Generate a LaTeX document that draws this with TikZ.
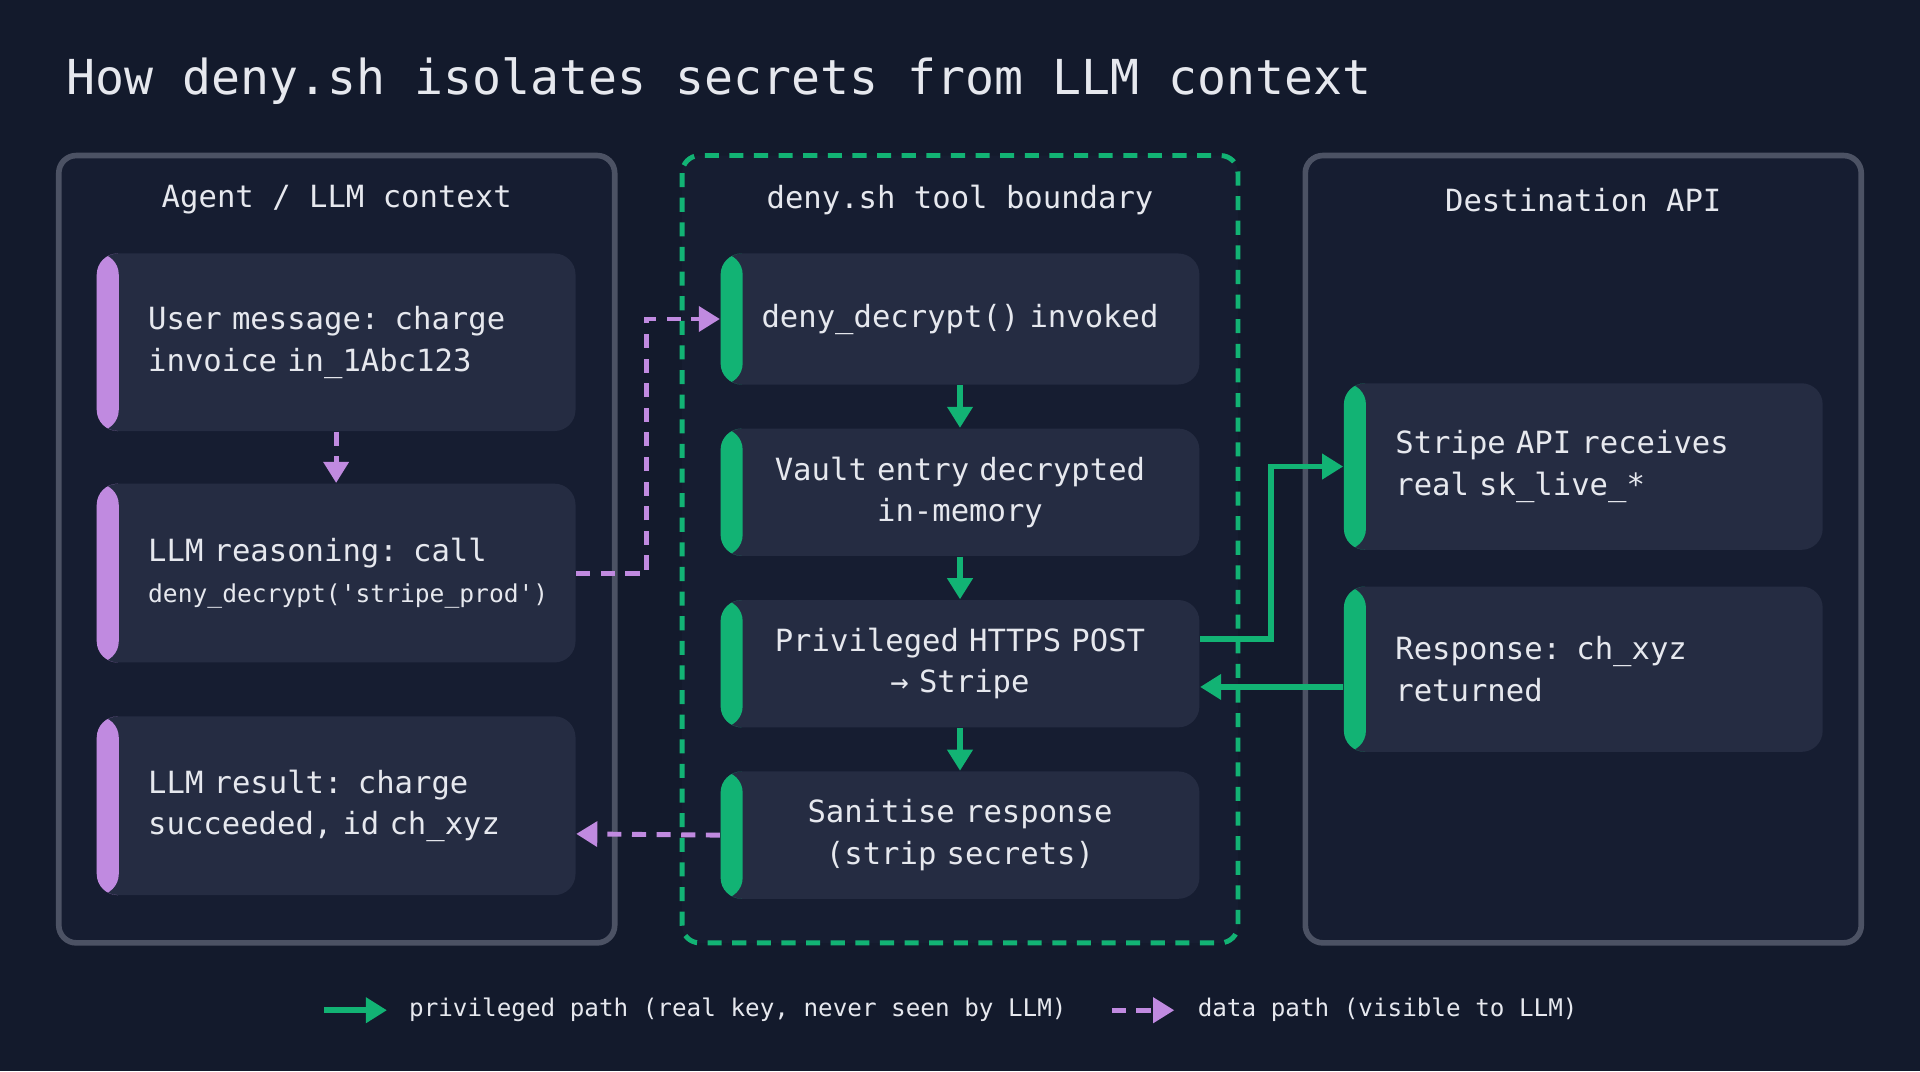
\documentclass[tikz,border=0pt]{standalone}
\usepackage{fontspec}
\setmainfont{DejaVu Sans Mono}[Ligatures=TeXOff,WordSpace={1,0,0}]
\setmonofont{DejaVu Sans Mono}[Ligatures=TeXOff,WordSpace={1,0,0}]
\usetikzlibrary{positioning,arrows.meta}
\definecolor{bgc}{HTML}{131A2C}
\definecolor{panelc}{HTML}{161D31}
\definecolor{edgec}{HTML}{4C5264}
\definecolor{boxc}{HTML}{252C42}
\definecolor{purp}{HTML}{C08AE0}
\definecolor{grn}{HTML}{12B374}
\definecolor{txt}{HTML}{E6E8EE}
\def\pxu{0.012245cm}
\tikzset{
  panel/.style={draw=edgec, line width=1.6pt, fill=panelc, rounded corners=5pt},
  step/.style={fill=boxc, rounded corners=6pt, text=txt, font=\fontsize{8.7}{11.8}\selectfont,
    minimum width={391*\pxu}, inner sep=0pt,
    path picture={\fill[#1] (path picture bounding box.north west) rectangle
      ([xshift={18*\pxu}]path picture bounding box.south west);}},
  ltxt/.style={text width={307*\pxu}, align=left},
  ctxt/.style={text width={340*\pxu}, align=center},
  ptitle/.style={text=txt, font=\fontsize{8.7}{11}\selectfont},
  priv/.style={draw=grn, line width=1.6pt, -{Triangle[length=6pt,width=7pt]}},
  data/.style={draw=purp, line width=1.4pt, dash pattern=on 4pt off 3pt, -{Triangle[length=6pt,width=7pt]}},
}
\begin{document}
\begin{tikzpicture}[x=\pxu, y=-\pxu]
  \fill[bgc] (0,0) rectangle (1568,875);
  \useasboundingbox (0,0) rectangle (1568,875);
  \node[anchor=west, text=txt, font=\fontsize{13.7}{16}\selectfont] (title) at (44,66) {How deny.sh isolates secrets from LLM context};

  % panels
  \draw[panel] (48,127) rectangle (502,770);
  \draw[draw=grn, line width=1.4pt, dash pattern=on 4pt off 3pt, fill=panelc, rounded corners=5pt] (557,127) rectangle (1011,770);
  \draw[panel] (1066,127) rectangle (1520,770);
  \node[ptitle] (tagent) at (275,163) {Agent / LLM context};
  \node[ptitle] (tdeny) at (784,163) {deny.sh tool boundary};
  \node[ptitle] (tdest) at (1293,163) {Destination API};

  % agent side
  \node[step=purp, minimum height={145*\pxu}, ltxt] (msg) at (274.5,279.5) {User message: charge\\invoice in\_1Abc123};
  \node[step=purp, minimum height={146*\pxu}, ltxt] (reason) at (274.5,468) {LLM reasoning: call\\{\fontsize{7}{10}\selectfont deny\_decrypt('stripe\_prod')}};
  \node[step=purp, minimum height={146*\pxu}, ltxt] (result) at (274.5,658) {LLM result: charge\\succeeded, id ch\_xyz};

  % tool boundary
  \node[step=grn, minimum height={107*\pxu}, ctxt] (invoke) at (784,260.5) {deny\_decrypt() invoked};
  \node[step=grn, minimum height={104*\pxu}, ctxt] (vault) at (784,402) {Vault entry decrypted\\in-memory};
  \node[step=grn, minimum height={104*\pxu}, ctxt] (post) at (784,542) {Privileged HTTPS POST\\→ Stripe};
  \node[step=grn, minimum height={104*\pxu}, ctxt] (sanit) at (784,682) {Sanitise response\\(strip secrets)};

  % destination
  \node[step=grn, minimum height={136*\pxu}, ltxt] (recv) at (1293,381) {Stripe API receives\\real sk\_live\_*};
  \node[step=grn, minimum height={135*\pxu}, ltxt] (resp) at (1293,546.5) {Response: ch\_xyz\\returned};

  % connectors
  \draw[data] (msg) -- (reason);
  \draw[data] (reason.east) -- (528,468) |- (invoke.west);
  \draw[priv] (invoke) -- (vault);
  \draw[priv] (vault) -- (post);
  \draw[priv] (post) -- (sanit);
  \draw[priv] ([yshift={20*\pxu}]post.east) -- (1038,522) |- (recv.west);
  \draw[priv] ([yshift={-14.5*\pxu}]resp.west) -- ([yshift={-19*\pxu}]post.east);
  \draw[data] (sanit.west) -- ([yshift={-23*\pxu}]result.east);

  % legend
  \coordinate (lg1) at (265,825);
  \coordinate (lg2) at (316,825);
  \draw[priv] (lg1) -- (lg2);
  \node[anchor=west, text=txt, font=\fontsize{6.9}{9}\selectfont] (lgpriv) at (324,825) {privileged path (real key, never seen by LLM)};
  \coordinate (lg3) at (908,825);
  \coordinate (lg4) at (959,825);
  \draw[data] (lg3) -- (lg4);
  \node[anchor=west, text=txt, font=\fontsize{6.9}{9}\selectfont] (lgdata) at (968,825) {data path (visible to LLM)};
\end{tikzpicture}
\end{document}
